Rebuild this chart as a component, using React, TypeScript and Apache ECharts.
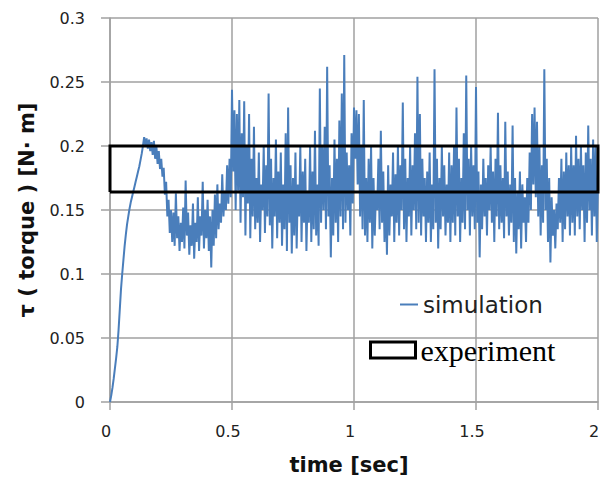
import React, { useEffect, useRef } from "react";
import * as echarts from "echarts";

// time step of the simulation samples [sec]
const timeStep = 0.005;

// simulated torque τ [N·m], one value per 0.005 s (0 … 2 s)
const simTorque: number[] = [
  // 0.00 – 0.095
  0, 0.005, 0.011, 0.018, 0.026, 0.034, 0.043, 0.056, 0.072, 0.088, 0.1, 0.111, 0.122, 0.131, 0.139, 0.145, 0.151, 0.156, 0.16, 0.164,
  // 0.10 – 0.195
  0.168, 0.172, 0.176, 0.18, 0.184, 0.189, 0.194, 0.2, 0.207, 0.201, 0.206, 0.198, 0.205, 0.196, 0.203, 0.193, 0.204, 0.19, 0.2, 0.186,
  // 0.20 – 0.295
  0.196, 0.182, 0.19, 0.176, 0.183, 0.162, 0.172, 0.145, 0.158, 0.132, 0.15, 0.125, 0.148, 0.122, 0.163, 0.128, 0.145, 0.118, 0.14, 0.125,
  // 0.30 – 0.395
  0.152, 0.12, 0.173, 0.13, 0.148, 0.115, 0.138, 0.122, 0.155, 0.112, 0.14, 0.125, 0.16, 0.118, 0.145, 0.13, 0.172, 0.12, 0.15, 0.128,
  // 0.40 – 0.495
  0.158, 0.118, 0.145, 0.105, 0.15, 0.122, 0.162, 0.128, 0.17, 0.135, 0.155, 0.14, 0.178, 0.145, 0.165, 0.15, 0.185, 0.155, 0.19, 0.16,
  // 0.50 – 0.595
  0.244, 0.18, 0.228, 0.15, 0.225, 0.165, 0.236, 0.14, 0.21, 0.16, 0.235, 0.13, 0.2, 0.155, 0.225, 0.128, 0.19, 0.145, 0.215, 0.135,
  // 0.60 – 0.695
  0.175, 0.14, 0.195, 0.125, 0.17, 0.15, 0.2, 0.132, 0.185, 0.145, 0.241, 0.138, 0.19, 0.12, 0.175, 0.145, 0.205, 0.128, 0.18, 0.14,
  // 0.70 – 0.795
  0.195, 0.122, 0.17, 0.135, 0.21, 0.118, 0.23, 0.14, 0.185, 0.116, 0.175, 0.13, 0.195, 0.12, 0.17, 0.145, 0.2, 0.125, 0.18, 0.14,
  // 0.80 – 0.895
  0.19, 0.118, 0.165, 0.14, 0.2, 0.125, 0.18, 0.135, 0.212, 0.13, 0.17, 0.122, 0.245, 0.14, 0.2, 0.15, 0.215, 0.135, 0.262, 0.145,
  // 0.90 – 0.995
  0.185, 0.113, 0.175, 0.13, 0.205, 0.14, 0.19, 0.125, 0.22, 0.145, 0.241, 0.135, 0.271, 0.14, 0.195, 0.15, 0.185, 0.13, 0.21, 0.155,
  // 1.00 – 1.095
  0.23, 0.19, 0.228, 0.17, 0.225, 0.145, 0.2, 0.135, 0.236, 0.13, 0.175, 0.125, 0.19, 0.14, 0.2, 0.12, 0.175, 0.13, 0.165, 0.15,
  // 1.10 – 1.195
  0.19, 0.135, 0.212, 0.14, 0.18, 0.125, 0.165, 0.115, 0.185, 0.13, 0.17, 0.145, 0.195, 0.125, 0.178, 0.14, 0.2, 0.13, 0.185, 0.15,
  // 1.20 – 1.295
  0.234, 0.135, 0.19, 0.125, 0.175, 0.145, 0.2, 0.13, 0.185, 0.15, 0.21, 0.135, 0.254, 0.14, 0.225, 0.13, 0.19, 0.145, 0.175, 0.125,
  // 1.30 – 1.395
  0.18, 0.14, 0.195, 0.125, 0.17, 0.135, 0.26, 0.14, 0.19, 0.12, 0.175, 0.135, 0.2, 0.145, 0.185, 0.13, 0.17, 0.14, 0.195, 0.125,
  // 1.40 – 1.495
  0.185, 0.14, 0.2, 0.13, 0.23, 0.145, 0.19, 0.125, 0.175, 0.14, 0.21, 0.135, 0.255, 0.15, 0.19, 0.13, 0.2, 0.145, 0.185, 0.135,
  // 1.50 – 1.595
  0.246, 0.14, 0.18, 0.113, 0.17, 0.135, 0.19, 0.145, 0.175, 0.13, 0.185, 0.15, 0.2, 0.14, 0.18, 0.125, 0.19, 0.145, 0.226, 0.135,
  // 1.60 – 1.695
  0.185, 0.14, 0.175, 0.128, 0.219, 0.145, 0.18, 0.13, 0.17, 0.14, 0.216, 0.125, 0.175, 0.116, 0.165, 0.135, 0.18, 0.12, 0.17, 0.14,
  // 1.70 – 1.795
  0.16, 0.125, 0.175, 0.14, 0.195, 0.15, 0.225, 0.17, 0.23, 0.16, 0.219, 0.145, 0.2, 0.13, 0.185, 0.14, 0.26, 0.15, 0.19, 0.125,
  // 1.80 – 1.895
  0.175, 0.109, 0.16, 0.13, 0.15, 0.12, 0.155, 0.135, 0.175, 0.14, 0.19, 0.125, 0.18, 0.135, 0.195, 0.145, 0.185, 0.13, 0.2, 0.14,
  // 1.90 – 2.00
  0.185, 0.13, 0.208, 0.145, 0.19, 0.135, 0.2, 0.15, 0.185, 0.125, 0.195, 0.14, 0.216, 0.15, 0.19, 0.13, 0.205, 0.145, 0.2, 0.125,
  0.175,
];

// experiment: band of measured torque, drawn as a rectangle
const expTime: number[] = [0, 2, 2, 0, 0];
const expTorque: number[] = [0.164, 0.164, 0.2, 0.2, 0.164];

// axes
const xMin = 0, xMax = 2, xInterval = 0.5;
const yMin = 0, yMax = 0.3, yInterval = 0.05;

const seriesNames = ["simulation", "experiment"];
const axisTitles = { x: "time [sec]", y: "τ ( torque ) [N· m]" };

export default function App() {
  const ref = useRef<HTMLDivElement>(null);
  useEffect(() => {
    if (!ref.current) return;
    const chart = echarts.init(ref.current, undefined, { renderer: "svg" });
    const gridColor = "#a0a0a0";
    const simData = simTorque.map((v, i) => [i * timeStep, v]);
    const expData = expTime.map((t, i) => [t, expTorque[i]]);
    chart.setOption({
      animation: false,
      backgroundColor: "#ffffff",
      grid: { left: 110, top: 18, right: 12, bottom: 79, outerBoundsMode: "none" },
      xAxis: {
        type: "value",
        min: xMin,
        max: xMax,
        interval: xInterval,
        name: axisTitles.x,
        nameLocation: "middle",
        nameGap: 52,
        nameTextStyle: { fontFamily: "DejaVu Sans", fontWeight: "bold", fontSize: 21, color: "#111", padding: [0, 10, 0, 0] },
        axisLine: { show: true, lineStyle: { color: gridColor, width: 1.5 } },
        axisTick: { show: true, length: 8, lineStyle: { color: gridColor, width: 1.5 } },
        axisLabel: { fontFamily: "DejaVu Sans", fontSize: 16, color: "#222", margin: 21, padding: [0, 8, 0, 0] },
        splitLine: { show: true, lineStyle: { color: gridColor, width: 1.5 } },
      },
      yAxis: {
        type: "value",
        min: yMin,
        max: yMax,
        interval: yInterval,
        name: axisTitles.y,
        nameLocation: "middle",
        nameGap: 73,
        nameTextStyle: { fontFamily: "DejaVu Sans", fontWeight: "bold", fontSize: 21, color: "#111" },
        axisLine: { show: true, lineStyle: { color: gridColor, width: 1.5 } },
        axisTick: { show: true, length: 9, lineStyle: { color: gridColor, width: 1.5 } },
        axisLabel: { fontFamily: "DejaVu Sans", fontSize: 16, color: "#222", margin: 25 },
        splitLine: { show: true, lineStyle: { color: gridColor, width: 1.5 } },
      },
      legend: [
        {
          data: [{ name: seriesNames[0], icon: "rect" }],
          left: 400,
          top: 293,
          padding: 0,
          itemWidth: 18,
          itemHeight: 2,
          textStyle: { fontFamily: "DejaVu Sans", fontSize: 23, color: "#222" },
        },
        {
          data: [
            {
              name: seriesNames[1],
              icon: "rect",
              itemStyle: { color: "#ffffff", borderColor: "#000000", borderWidth: 3 },
            },
          ],
          left: 369,
          top: 335,
          padding: 0,
          itemWidth: 45,
          itemHeight: 16,
          textStyle: { fontFamily: "Liberation Serif", fontSize: 30, color: "#000" },
        },
      ],
      series: [
        {
          name: seriesNames[0],
          type: "line",
          data: simData,
          showSymbol: false,
          symbol: "none",
          color: "#4a7ebb",
          lineStyle: { color: "#4a7ebb", width: 2 },
          z: 2,
        },
        {
          name: seriesNames[1],
          type: "line",
          data: expData,
          showSymbol: false,
          symbol: "none",
          clip: false,
          color: "#000000",
          lineStyle: { color: "#000000", width: 3, join: "miter" },
          z: 3,
        },
      ],
    });
    return () => chart.dispose();
  }, []);
  return <div ref={ref} style={{ position: "fixed", left: 0, top: 0, width: 610, height: 481 }} />;
}
